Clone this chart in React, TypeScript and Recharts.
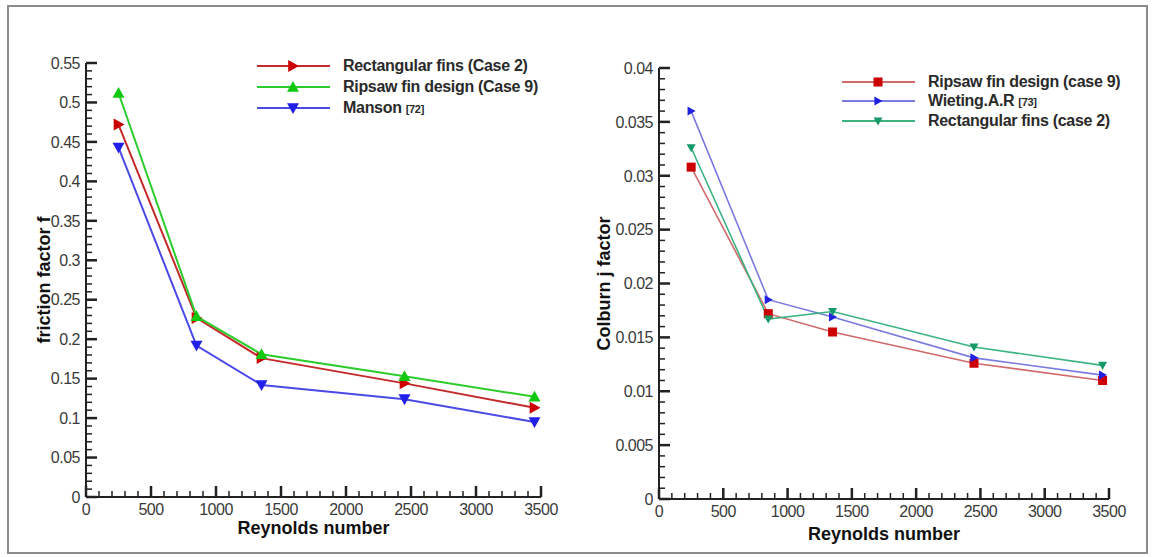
import { LineChart, Line, XAxis, YAxis, Label } from "recharts";

// Reynolds numbers shared by both panels
const reynolds = [250, 850, 1350, 2450, 3450];

// left panel: friction factor f
const fRectangular = [0.472, 0.227, 0.176, 0.144, 0.113];
const fRipsaw = [0.512, 0.229, 0.181, 0.153, 0.127];
const fManson = [0.443, 0.192, 0.142, 0.124, 0.095];

// right panel: Colburn j factor
const jRipsaw = [0.0308, 0.0172, 0.0155, 0.0126, 0.011];
const jWieting = [0.036, 0.0185, 0.0169, 0.0131, 0.0115];
const jRectangular = [0.0326, 0.0167, 0.0174, 0.0141, 0.0124];

// major tick labels
const xMajor = [0, 500, 1000, 1500, 2000, 2500, 3000, 3500];
const fMajor = [0, 0.05, 0.1, 0.15, 0.2, 0.25, 0.3, 0.35, 0.4, 0.45, 0.5, 0.55];
const jMajor = [0, 0.005, 0.01, 0.015, 0.02, 0.025, 0.03, 0.035, 0.04];

const FONT = "'Liberation Sans', Arial, sans-serif";

// 4 minor ticks between each pair of majors
const withMinors = (majors: number[]) =>
  majors.flatMap((m, i) =>
    i === majors.length - 1
      ? [m]
      : [0, 1, 2, 3, 4].map((k) => +(m + ((majors[i + 1] - m) * k) / 5).toFixed(6))
  );

const fmt = (v: number) => String(parseFloat(v.toFixed(4)));

const leftRows = reynolds.map((re, i) => ({
  re,
  rect: fRectangular[i],
  ripsaw: fRipsaw[i],
  manson: fManson[i],
}));

const rightRows = reynolds.map((re, i) => ({
  re,
  ripsaw: jRipsaw[i],
  wieting: jWieting[i],
  rect: jRectangular[i],
}));

type Shape = "right" | "up" | "down" | "square";

interface Series {
  key: string;
  name: string;
  cite?: string;
  line: string;
  fill: string;
  shape: Shape;
}

const leftSeries: Series[] = [
  { key: "rect", name: "Rectangular fins (Case 2)", line: "#c42a2a", fill: "#cc0000", shape: "right" },
  { key: "ripsaw", name: "Ripsaw fin design (Case 9)", line: "#2ccc2c", fill: "#11c811", shape: "up" },
  { key: "manson", name: "Manson", cite: "[72]", line: "#4a4ae6", fill: "#2020e8", shape: "down" },
];

const rightSeries: Series[] = [
  { key: "ripsaw", name: "Ripsaw fin design (case 9)", line: "#d06a6a", fill: "#cc0000", shape: "square" },
  { key: "wieting", name: "Wieting.A.R", cite: "[73]", line: "#7a7ae0", fill: "#2020e0", shape: "right" },
  { key: "rect", name: "Rectangular fins (case 2)", line: "#3cb482", fill: "#159a68", shape: "down" },
];

function Marker({ cx, cy, shape, fill, s }: { cx: number; cy: number; shape: Shape; fill: string; s: number }) {
  if (shape === "square") {
    return <rect x={cx - s} y={cy - s} width={2 * s} height={2 * s} fill={fill} />;
  }
  let pts = "";
  if (shape === "right") pts = `${cx - s * 0.8},${cy - s} ${cx + s},${cy} ${cx - s * 0.8},${cy + s}`;
  if (shape === "up") pts = `${cx},${cy - s} ${cx + s},${cy + s * 0.8} ${cx - s},${cy + s * 0.8}`;
  if (shape === "down") pts = `${cx - s},${cy - s * 0.8} ${cx + s},${cy - s * 0.8} ${cx},${cy + s}`;
  return <polygon points={pts} fill={fill} />;
}

// inward tick marks (tecplot style): x, y arrive on the axis line
function XTick(props: any) {
  const { x, y, index, payload } = props;
  const major = index % 5 === 0;
  const len = major ? 11 : 6;
  const w = major ? 2.5 : 1.5;
  return (
    <g>
      <rect x={x - w / 2} y={y - len} width={w} height={len} fill="#222" />
      {major && (
        <text x={x} y={y + 18} textAnchor="middle" fontSize={16} fill="#3a3a3a" fontFamily={FONT} letterSpacing={-0.5}>
          {fmt(payload.value)}
        </text>
      )}
    </g>
  );
}

function YTick(props: any) {
  const { x, y, index, payload } = props;
  const major = index % 5 === 0;
  const len = major ? 11 : 6;
  const w = major ? 2.5 : 1.5;
  return (
    <g>
      <rect x={x} y={y - w / 2} width={len} height={w} fill="#222" />
      {major && (
        <text x={x - 6} y={y} dy="0.36em" textAnchor="end" fontSize={16} fill="#3a3a3a" fontFamily={FONT} letterSpacing={-0.5}>
          {fmt(payload.value)}
        </text>
      )}
    </g>
  );
}

function LegendBox({ series, rowH, s, left, top }: { series: Series[]; rowH: number; s: number; left: number; top: number }) {
  return (
    <div style={{ position: "absolute", left, top, fontFamily: FONT }}>
      {series.map((it) => (
        <div key={it.key} style={{ display: "flex", alignItems: "center", height: rowH }}>
          <svg width={73} height={16} style={{ marginRight: 13 }}>
            <line x1={0} y1={8} x2={73} y2={8} stroke={it.line} strokeWidth={2} />
            <Marker cx={36} cy={8} shape={it.shape} fill={it.fill} s={s} />
          </svg>
          <span style={{ fontSize: 16, fontWeight: 700, color: "#2a2a2a", letterSpacing: -0.3, whiteSpace: "nowrap" }}>
            {it.name}
            {it.cite && <span style={{ fontSize: 11, marginLeft: 4 }}>{it.cite}</span>}
          </span>
        </div>
      ))}
    </div>
  );
}

function xTitle(dy: number) {
  return (p: any) => {
    const vb = p.viewBox;
    return (
      <text x={vb.x + vb.width / 2} y={vb.y + dy} textAnchor="middle" fontSize={18} fontWeight={700} fill="#111" fontFamily={FONT}>
        Reynolds number
      </text>
    );
  };
}

function yTitle(text: string, dx: number) {
  return (p: any) => {
    const vb = p.viewBox;
    const cx = vb.x + dx;
    const cy = vb.y + vb.height / 2;
    return (
      <text x={cx} y={cy} dy="0.36em" textAnchor="middle" fontSize={18} fontWeight={700} fill="#111" fontFamily={FONT} transform={`rotate(-90 ${cx} ${cy})`}>
        {text}
      </text>
    );
  };
}

const axisCommon = {
  type: "number" as const,
  interval: 0 as const,
  tickSize: 0,
  tickMargin: 0,
  tickLine: false,
  axisLine: { stroke: "#222", strokeWidth: 2 },
};

export default function App() {
  return (
    <div style={{ position: "absolute", left: 0, top: 0, width: 1152, height: 557, background: "#fff", overflow: "hidden" }}>
      <div
        style={{
          position: "absolute",
          left: 7,
          top: 5,
          width: 1141,
          height: 549,
          border: "2px solid #8c8c8c",
          boxSizing: "border-box",
        }}
      />
      <div style={{ position: "absolute", left: 0, top: 0 }}>
        <LineChart width={580} height={557} data={leftRows} margin={{ top: 63, right: 39, bottom: 10, left: 26 }}>
          <XAxis {...axisCommon} dataKey="re" domain={[0, 3500]} ticks={withMinors(xMajor)} tick={<XTick />} height={50}>
            <Label content={xTitle(37)} />
          </XAxis>
          <YAxis {...axisCommon} domain={[0, 0.55]} ticks={withMinors(fMajor)} tick={<YTick />} width={60}>
            <Label content={yTitle("friction factor f", 18)} />
          </YAxis>
          {leftSeries.map((it) => (
            <Line
              key={it.key}
              dataKey={it.key}
              name={it.name}
              stroke={it.line}
              strokeWidth={2}
              isAnimationActive={false}
              dot={(p: any) => <Marker key={`${it.key}-${p.index}`} cx={p.cx} cy={p.cy} shape={it.shape} fill={it.fill} s={6} />}
            />
          ))}
        </LineChart>
      </div>
      <div style={{ position: "absolute", left: 580, top: 0 }}>
        <LineChart width={572} height={557} data={rightRows} margin={{ top: 68, right: 43, bottom: 8, left: 19 }}>
          <XAxis {...axisCommon} dataKey="re" domain={[0, 3500]} ticks={withMinors(xMajor)} tick={<XTick />} height={50}>
            <Label content={xTitle(41)} />
          </XAxis>
          <YAxis {...axisCommon} domain={[0, 0.04]} ticks={withMinors(jMajor)} tick={<YTick />} width={60}>
            <Label content={yTitle("Colburn j factor", 5)} />
          </YAxis>
          {rightSeries.map((it) => (
            <Line
              key={it.key}
              dataKey={it.key}
              name={it.name}
              stroke={it.line}
              strokeWidth={1.6}
              isAnimationActive={false}
              dot={(p: any) => <Marker key={`${it.key}-${p.index}`} cx={p.cx} cy={p.cy} shape={it.shape} fill={it.fill} s={4.5} />}
            />
          ))}
        </LineChart>
      </div>
      <LegendBox series={leftSeries} rowH={21} s={6} left={257} top={55} />
      <LegendBox series={rightSeries} rowH={19.5} s={4.5} left={842} top={72} />
    </div>
  );
}
